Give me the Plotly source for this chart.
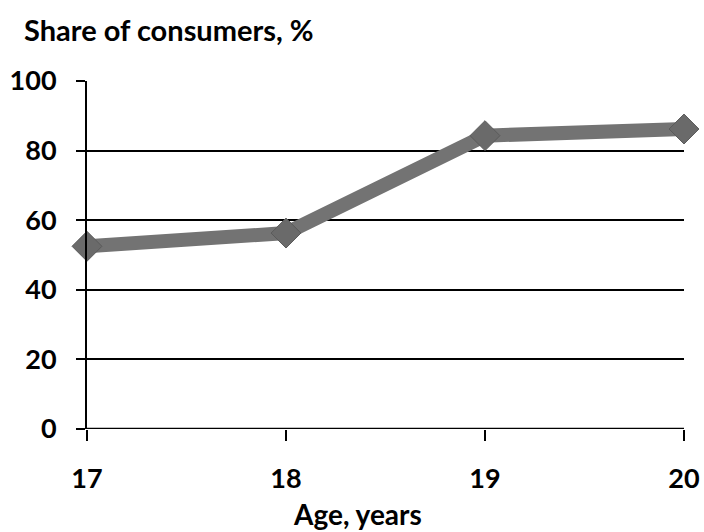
import plotly.graph_objects as go

ages = [17, 18, 19, 20]
share = [52.5, 56.3, 84.3, 86.2]
y_ticks = [0, 20, 40, 60, 80, 100]
x_ticks = [17, 18, 19, 20]

font_family = "Lato"

fig = go.Figure()
fig.add_trace(go.Scatter(
    x=ages, y=share, mode="lines+markers",
    line=dict(color="#737373", width=14),
    marker=dict(symbol="diamond", size=23, color="#6a6a6a",
                line=dict(color="#5a5a5a", width=1)),
    cliponaxis=False, showlegend=False,
))

fig.update_layout(
    width=704, height=532,
    margin=dict(l=87, r=20, t=81, b=103, autoexpand=False),
    paper_bgcolor="white", plot_bgcolor="white",
    font=dict(family=font_family, color="black", size=27),
    annotations=[
        dict(text="<b>Share of consumers, %</b>", xref="paper", yref="paper",
             x=(22 - 87) / 597, y=(429 - 30) / 348, xanchor="left", yanchor="middle",
             showarrow=False, font=dict(size=29, family=font_family)),
        dict(text="<b>Age, years</b>", xref="paper", yref="paper",
             x=(357 - 87) / 597, y=(429 - 514) / 348, xanchor="center", yanchor="middle",
             showarrow=False, font=dict(size=28, family=font_family)),
    ],
)
fig.update_xaxes(
    range=[17, 20], tickvals=x_ticks, ticktext=[f"<b>{t}</b>" for t in x_ticks],
    showgrid=False, zeroline=False, showline=False, automargin=False,
    ticks="outside", ticklen=11, tickwidth=2, tickcolor="black",
    ticklabelstandoff=15,
)
fig.update_yaxes(
    range=[0, 100], tickvals=y_ticks, ticktext=[f"<b>{t}</b>" for t in y_ticks],
    showgrid=True, gridcolor="black", gridwidth=2, zeroline=False,
    showline=True, linecolor="black", linewidth=2, automargin=False,
    ticks="outside", ticklen=9, tickwidth=2, tickcolor="black",
    ticklabelstandoff=14,
)
fig.add_shape(type="line", xref="paper", yref="y", x0=0, x1=1, y0=0, y1=0,
              line=dict(color="black", width=2.5), layer="below")

fig.write_html("out.html")
